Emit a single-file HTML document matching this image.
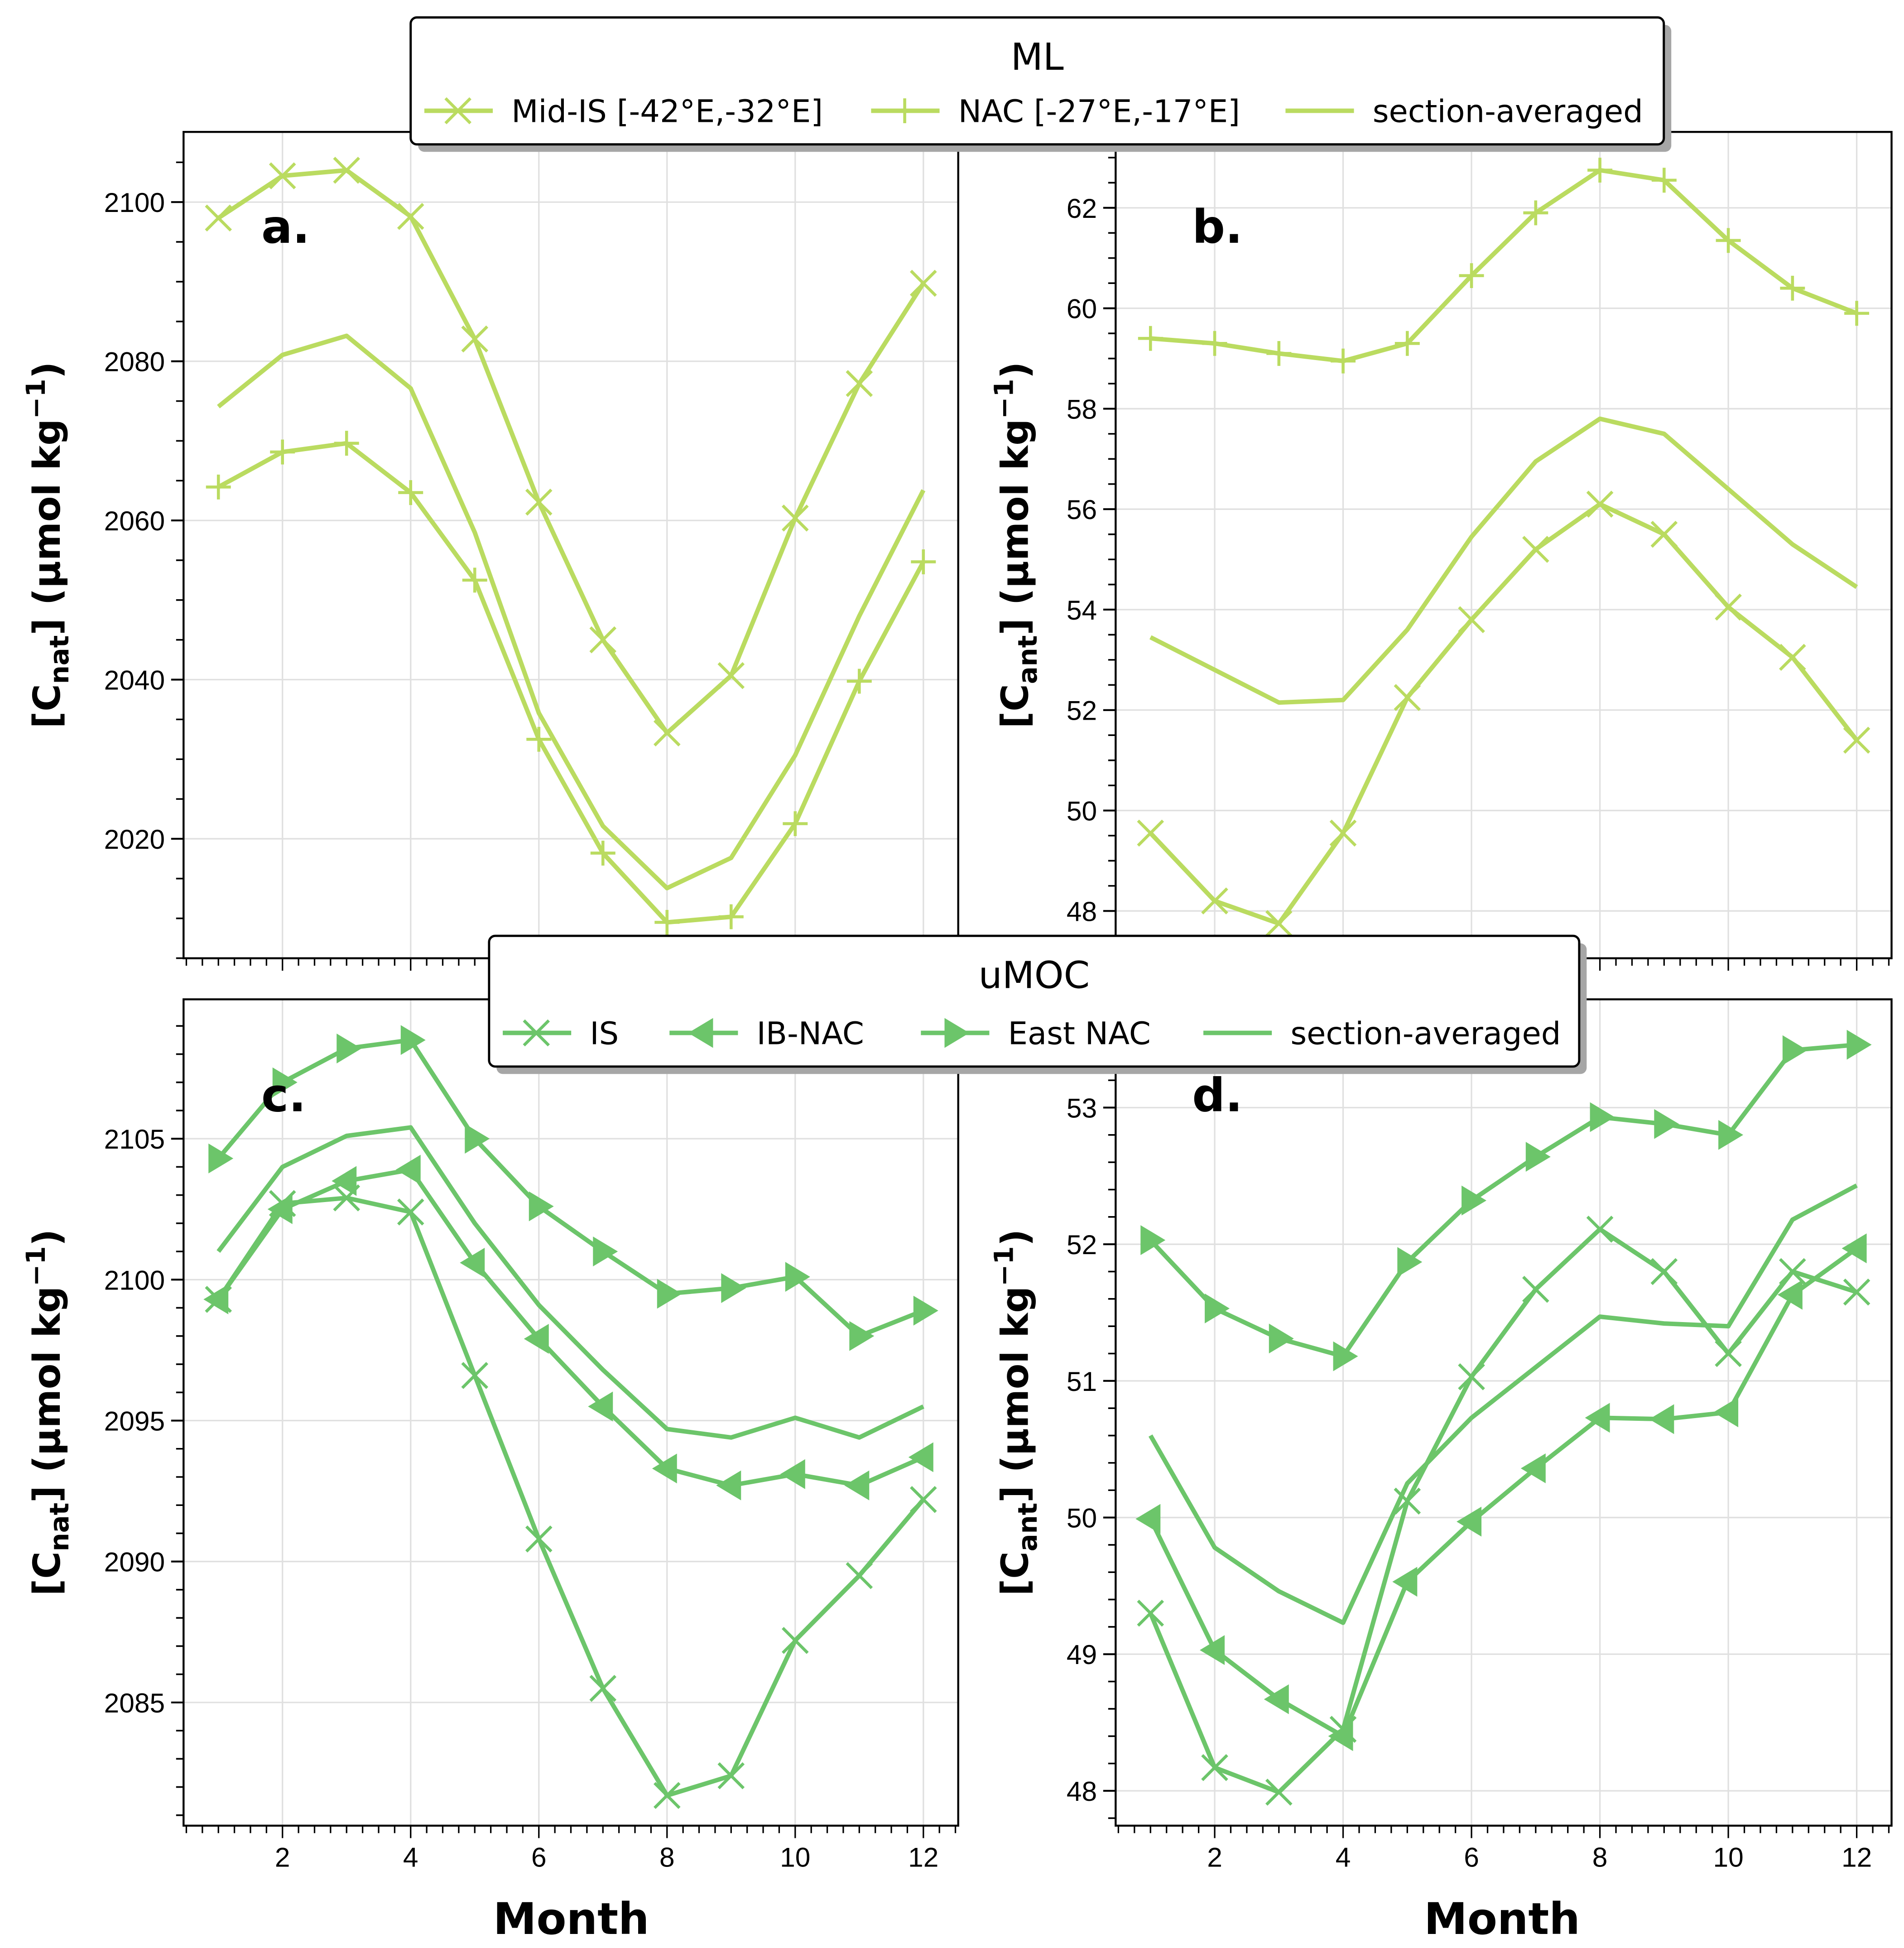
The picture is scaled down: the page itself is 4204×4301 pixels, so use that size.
<!DOCTYPE html>
<html><head><meta charset="utf-8"><style>
html,body{margin:0;padding:0;background:#fff}
svg{display:block}
text{font-family:"Liberation Sans",sans-serif}
.lg{font-family:"DejaVu Sans","Liberation Sans",sans-serif}
</style></head><body>
<svg id="fig" xmlns="http://www.w3.org/2000/svg" width="4204" height="4301" viewBox="0 0 1530 1565.3">
<rect width="1530" height="1565.3" fill="#fff"/>
</svg>
<script>
const months=[1,2,3,4,5,6,7,8,9,10,11,12];
const aMidIS=[2098,2103.3,2104,2098.2,2082.8,2062.3,2045,2033.3,2040.5,2060.3,2077.2,2089.8];
const aSect=[2074.3,2080.8,2083.2,2076.6,2058.5,2035.8,2021.6,2013.8,2017.6,2030.5,2048,2063.8];
const aNAC=[2064.2,2068.6,2069.7,2063.5,2052.5,2032.5,2018.2,2009.5,2010.2,2021.9,2039.8,2054.8];
const bNAC=[59.4,59.3,59.1,58.95,59.3,60.65,61.9,62.75,62.55,61.35,60.4,59.9];
const bSect=[53.45,52.8,52.15,52.2,53.6,55.45,56.95,57.8,57.5,56.4,55.3,54.45];
const bMidIS=[49.55,48.2,47.75,49.55,52.25,53.8,55.2,56.1,55.5,54.05,53.05,51.4];
const cEast=[2104.3,2107,2108.2,2108.5,2105,2102.6,2101,2099.5,2099.7,2100.1,2098,2098.9];
const cSect=[2101,2104,2105.1,2105.4,2102,2099.1,2096.8,2094.7,2094.4,2095.1,2094.4,2095.5];
const cIB=[2099.3,2102.5,2103.5,2103.9,2100.6,2097.9,2095.5,2093.3,2092.7,2093.1,2092.7,2093.7];
const cIS=[2099.3,2102.7,2102.9,2102.4,2096.6,2090.8,2085.5,2081.7,2082.4,2087.2,2089.5,2092.2];
const dEast=[52.03,51.53,51.31,51.18,51.87,52.32,52.64,52.93,52.88,52.8,53.42,53.46];
const dSect=[50.6,49.78,49.46,49.23,50.25,50.73,51.1,51.47,51.42,51.4,52.18,52.43];
const dIB=[49.99,49.03,48.67,48.4,49.53,49.97,50.36,50.73,50.72,50.77,51.63,51.97];
const dIS=[49.3,48.17,47.99,48.45,50.12,51.03,51.67,52.11,51.8,51.2,51.8,51.65];
const xTicks=[2,4,6,8,10,12];
const aTicks=[2020,2040,2060,2080,2100];
const bTicks=[48,50,52,54,56,58,60,62];
const cTicks=[2085,2090,2095,2100,2105];
const dTicks=[48,49,50,51,52,53];

const ML='#badb60', UM='#6cc56a';
const NS='http://www.w3.org/2000/svg';
const fig=document.getElementById('fig');
function el(tag,attrs,parent,txt){const e=document.createElementNS(NS,tag);for(const k in attrs)e.setAttribute(k,attrs[k]);if(txt!==undefined)e.textContent=txt;(parent||fig).appendChild(e);return e;}

const panels=[
 {id:'a',L:147.5,R:770,T:106,B:770,yr:[2100,162.4,2020,674],ymin:5,ticks:aTicks,lab:[210,195],color:ML,xl:false,
  series:[['mid-is',aMidIS,'x'],['section-averaged',aSect,''],['nac',aNAC,'+']],ylab:'nat',yl:38},
 {id:'b',L:896.5,R:1520,T:106,B:770,yr:[62,167,48,732],ymin:0.5,ticks:bTicks,lab:[958,195],color:ML,xl:false,
  series:[['nac',bNAC,'+'],['section-averaged',bSect,''],['mid-is',bMidIS,'x']],ylab:'ant',yl:816},
 {id:'c',L:147.5,R:770,T:803,B:1467,yr:[2105,915,2085,1368],ymin:1,ticks:cTicks,lab:[210,893],color:UM,xl:true,
  series:[['east-nac',cEast,'>'],['section-averaged',cSect,''],['ib-nac',cIB,'<'],['is',cIS,'x']],ylab:'nat',yl:38},
 {id:'d',L:896.5,R:1520,T:803,B:1467,yr:[53,890,48,1439],ymin:0.2,ticks:dTicks,lab:[958,893],color:UM,xl:true,
  series:[['east-nac',dEast,'>'],['section-averaged',dSect,''],['ib-nac',dIB,'<'],['is',dIS,'x']],ylab:'ant',yl:816}
];
function marker(g,t,x,y,c){
  if(t==='x'){el('path',{d:`M${x-10} ${y-10}L${x+10} ${y+10}M${x-10} ${y+10}L${x+10} ${y-10}`,stroke:c,'stroke-width':2.4,fill:'none'},g);}
  else if(t==='+'){el('path',{d:`M${x-10} ${y}L${x+10} ${y}M${x} ${y-10}L${x} ${y+10}`,stroke:c,'stroke-width':2.4,fill:'none'},g);}
  else if(t==='<'){el('path',{d:`M${x-12} ${y}L${x+8} ${y-12}L${x+8} ${y+12}Z`,fill:c},g);}
  else if(t==='>'){el('path',{d:`M${x+12} ${y}L${x-8} ${y-12}L${x-8} ${y+12}Z`,fill:c},g);}
}
panels.forEach(p=>{
  const xs=m=>p.L+28+(m-1)*(p.R-p.L-56)/11;
  const [v1,p1,v2,p2]=p.yr;
  const ys=v=>p1+(v-v1)*(p2-p1)/(v2-v1);
  const g=el('g',{});
  
  
  const vmin=v1+(p.B-p1)*(v2-v1)/(p2-p1), vmax=v1+(p.T-p1)*(v2-v1)/(p2-p1);
  xTicks.forEach(m=>el('line',{x1:xs(m),x2:xs(m),y1:p.T,y2:p.B,stroke:'#e0e0e0','stroke-width':1.2},g));
  p.ticks.forEach(v=>el('line',{x1:p.L,x2:p.R,y1:ys(v),y2:ys(v),stroke:'#e0e0e0','stroke-width':1.2},g));
  const lo=Math.ceil(vmin/p.ymin-1e-6), hi=Math.floor(vmax/p.ymin+1e-6);
  for(let i=lo;i<=hi;i++){const v=i*p.ymin;el('line',{x1:p.L-6,x2:p.L,y1:ys(v),y2:ys(v),stroke:'#000','stroke-width':1.3},g);}
  p.ticks.forEach(v=>{el('line',{x1:p.L-10,x2:p.L,y1:ys(v),y2:ys(v),stroke:'#000','stroke-width':1.5},g);
    const t=el('text',{x:p.L-15,y:ys(v)+8,'text-anchor':'end','font-size':22},g,String(v));
    });
  for(let m=0.5;m<=12.5;m+=0.25){const x=xs(m);if(x<p.L-0.5||x>p.R+0.5)continue;el('line',{x1:x,x2:x,y1:p.B,y2:p.B+(Number.isInteger(m)&&m%2===0?10:6),stroke:'#000','stroke-width':1.2},g);}
  if(p.xl) xTicks.forEach(m=>{const t=el('text',{x:xs(m),y:p.B+33,'text-anchor':'middle','font-size':22},g,String(m));
    });
  p.series.forEach(s=>{
    const sg=el('g',{},g);
    
    
    el('polyline',{points:s[1].map((v,i)=>xs(months[i])+','+ys(v)).join(' '),fill:'none',stroke:p.color,'stroke-width':3.6,'stroke-linejoin':'round'},sg);
    if(s[2]) s[1].forEach((v,i)=>marker(sg,s[2],xs(months[i]),ys(v),p.color));
  });
  el('rect',{x:p.L,y:p.T,width:p.R-p.L,height:p.B-p.T,fill:'none',stroke:'#000','stroke-width':1.6},g);
  const pl=el('text',{x:p.lab[0],y:p.lab[1],'font-size':37,'font-weight':'bold',class:'lg'},g,p.id+'.');
  
  const cy=(p.T+p.B)/2;
  const yt=el('text',{x:p.yl,y:cy,transform:`rotate(-90 ${p.yl} ${cy})`,'text-anchor':'middle','font-size':30,'font-weight':'bold',class:'lg',dy:10},g);
  
  yt.innerHTML=`[C<tspan font-size="21" dy="7">${p.ylab}</tspan><tspan dy="-7">] (µmol kg</tspan><tspan font-size="21" dy="-12">−1</tspan><tspan dy="12">)</tspan>`;
});
['459','1207'].forEach(x=>{const t=el('text',{x:x,y:1554,'text-anchor':'middle','font-size':35,'font-weight':'bold',class:'lg'},fig,'Month');
  });

function legend(name,x,y,w,h,title,items,c){
  const g=el('g',{});
  
  
  el('rect',{x:x+6,y:y+6,width:w,height:h,rx:5,fill:'#a6a6a6'},g);
  el('rect',{x:x,y:y,width:w,height:h,rx:5,fill:'#fff',stroke:'#000','stroke-width':1.8},g);
  el('text',{x:x+w/2,y:y+42,'text-anchor':'middle','font-size':30,class:'lg'},g,title);
  items.forEach(it=>{
    const ig=el('g',{},g);
    
    
    const ly=y+h-27;
    el('line',{x1:it[0],x2:it[0]+55,y1:ly,y2:ly,stroke:c,'stroke-width':3.6},ig);
    if(it[2]) marker(ig,it[2],it[0]+27,ly,c);
    el('text',{x:it[0]+70,y:ly+9,'font-size':25,class:'lg'},ig,it[1]);
  });
}
legend('legend-ml',330,14,1007,102,'ML',[[341,'Mid-IS [-42°E,-32°E]','x'],[700,'NAC [-27°E,-17°E]','+'],[1033,'section-averaged','']],ML);
legend('legend-umoc',393,752,876,105,'uMOC',[[404,'IS','x'],[538,'IB-NAC','<'],[740,'East NAC','>'],[967,'section-averaged','']],UM);
</script>
</body></html>
